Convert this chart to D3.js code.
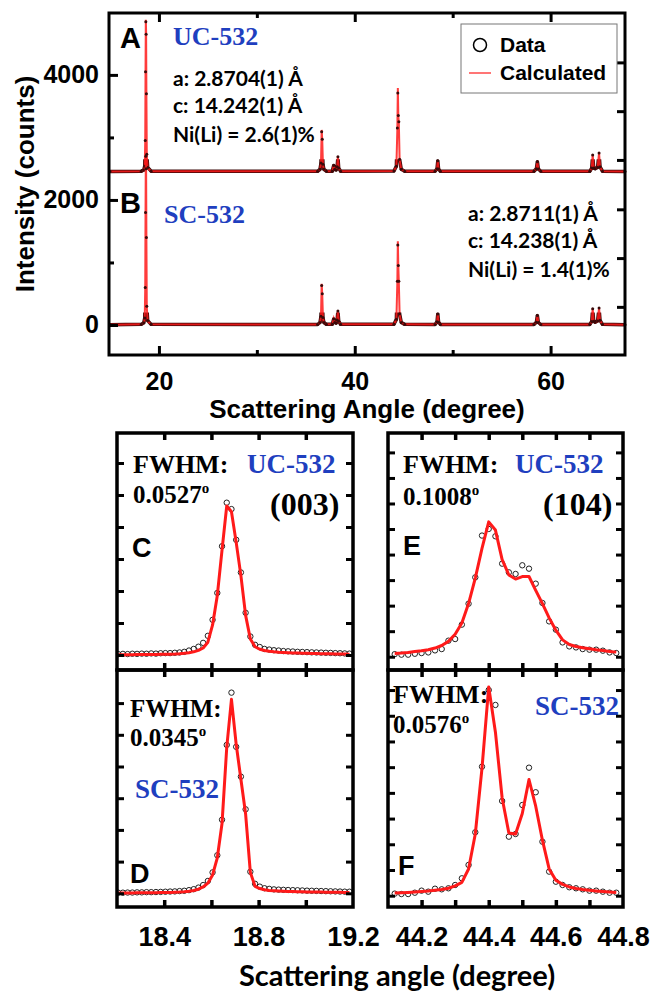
<!DOCTYPE html>
<html>
<head>
<meta charset="utf-8">
<script src="https://cdn.jsdelivr.net/npm/d3@7"></script>
<style>
  body { margin: 0; background: #fff; }
  svg { display: block; }
</style>
</head>
<body>
<svg id="chart" width="655" height="994"></svg>
<script>
// ---- full pattern (top panel), counts; A is stacked with an offset ----
const offsetA = 2450;
const topAngle = [15.0, 18.2, 18.45, 18.55, 18.6, 18.63, 18.66, 18.69, 18.72, 18.76, 18.85, 19.2,
    36.2, 36.45, 36.55, 36.62, 36.68, 36.75, 36.85, 37.1,
    37.7, 37.85, 37.95, 38.1, 38.2, 38.28, 38.36, 38.55,
    44.0, 44.25, 44.35, 44.4, 44.45, 44.5, 44.58, 44.75, 45.1,
    48.2, 48.4, 48.48, 48.56, 48.75,
    58.3, 58.55, 58.65, 58.75, 59.0,
    64.0, 64.2, 64.3, 64.4, 64.55, 64.8, 64.95, 65.05, 65.3,
    67.6];
const obsA = [5, 10, 30, 90, 500, 1600, 2400, 2200, 1250, 280, 70, 10,
    8, 40, 140, 640, 520, 120, 40, 10,
    10, 100, 40, 30, 80, 240, 60, 10,
    12, 90, 700, 1260, 900, 800, 200, 40, 10,
    8, 50, 175, 45, 8,
    8, 50, 160, 45, 8,
    8, 60, 270, 60, 50, 70, 300, 80, 10,
    5];
const calcA = [5, 10, 25, 80, 480, 1550, 2430, 2250, 1230, 260, 60, 10,
    8, 35, 130, 670, 510, 110, 35, 10,
    10, 105, 40, 30, 75, 245, 55, 10,
    12, 85, 680, 1340, 880, 790, 190, 35, 10,
    8, 45, 178, 40, 8,
    8, 45, 162, 40, 8,
    8, 55, 275, 55, 45, 65, 305, 75, 10,
    5];
const obsB = [5, 10, 35, 110, 600, 1800, 2700, 2500, 1400, 300, 70, 10,
    8, 40, 140, 630, 500, 120, 40, 10,
    10, 95, 40, 30, 80, 225, 60, 10,
    12, 90, 700, 1280, 950, 700, 180, 40, 10,
    8, 50, 176, 45, 8,
    8, 45, 150, 40, 8,
    8, 55, 260, 60, 45, 65, 270, 75, 10,
    5];
const calcB = [5, 10, 30, 100, 580, 1750, 2720, 2520, 1380, 280, 60, 10,
    8, 35, 130, 660, 490, 110, 35, 10,
    10, 100, 40, 30, 75, 230, 55, 10,
    12, 85, 690, 1340, 930, 690, 170, 35, 10,
    8, 45, 178, 40, 8,
    8, 40, 152, 36, 8,
    8, 50, 265, 55, 40, 60, 275, 70, 10,
    5];

// ---- (003) reflection, panels C (UC-532) and D (SC-532) ----
const angle003 = [18.205, 18.225, 18.245, 18.265, 18.285, 18.305, 18.325, 18.345, 18.365, 18.385,
    18.405, 18.425, 18.445, 18.465, 18.485, 18.505, 18.525, 18.545, 18.565, 18.585,
    18.605, 18.625, 18.645, 18.665, 18.685, 18.705, 18.725, 18.745, 18.765, 18.785,
    18.805, 18.825, 18.845, 18.865, 18.885, 18.905, 18.925, 18.945, 18.965, 18.985,
    19.005, 19.025, 19.045, 19.065, 19.085, 19.105, 19.125, 19.145, 19.165, 19.185];
const obsC = [15, 18, 15, 20, 18, 22, 20, 25, 22, 28,
    30, 30, 35, 40, 50, 70, 95, 130, 190, 300,
    550, 970, 1700, 2380, 2280, 1800, 1290, 660, 290, 160,
    125, 95, 85, 75, 70, 62, 58, 55, 50, 48,
    45, 42, 40, 38, 35, 33, 30, 28, 25, 22];
const calcC = [5, 5, 6, 6, 7, 8, 8, 9, 10, 11,
    12, 14, 16, 20, 26, 36, 50, 72, 110, 200,
    470, 930, 1640, 2330, 2240, 1760, 1240, 620, 250, 130,
    90, 70, 58, 50, 44, 40, 36, 33, 30, 28,
    26, 24, 22, 20, 19, 18, 17, 16, 15, 14];
const obsD = [10, 10, 12, 12, 15, 15, 18, 18, 20, 22,
    25, 28, 30, 35, 40, 50, 65, 90, 130, 195,
    330, 600, 1160, 2340, 3165, 2310, 1840, 1325, 340, 150,
    105, 80, 70, 62, 58, 55, 52, 50, 48, 45,
    42, 40, 38, 36, 34, 32, 30, 28, 26, 25];
const calcD = [5, 5, 6, 6, 7, 8, 8, 9, 10, 11,
    12, 14, 16, 19, 24, 32, 45, 65, 100, 160,
    290, 560, 1100, 2300, 3060, 2350, 1800, 1250, 330, 110,
    75, 55, 45, 40, 36, 33, 30, 28, 26, 24,
    22, 21, 20, 19, 18, 17, 16, 15, 14, 13];

// ---- (104) reflection, panels E (UC-532) and F (SC-532) ----
const angle104 = [44.12, 44.14, 44.16, 44.18, 44.20, 44.22, 44.24, 44.26, 44.28, 44.30,
    44.32, 44.34, 44.36, 44.38, 44.40, 44.42, 44.44, 44.46, 44.48, 44.50,
    44.52, 44.54, 44.56, 44.58, 44.60, 44.62, 44.64, 44.66, 44.68, 44.70,
    44.72, 44.74, 44.76, 44.78];
const obsE = [25, 20, 20, 29, 36, 42, 62, 75, 157, 173,
    314, 519, 777, 1186, 1251, 1179, 911, 826, 810, 895,
    862, 715, 526, 346, 265, 140, 101, 91, 75, 69,
    69, 59, 42, 36];
const calcE = [32, 36, 42, 50, 58, 68, 85, 110, 150, 220,
    330, 520, 770, 1060, 1320, 1240, 950, 800, 760, 785,
    785, 650, 520, 380, 260, 165, 120, 100, 88, 78,
    68, 60, 52, 45];
const obsF = [20, 16, 16, 29, 49, 39, 68, 62, 72, 104,
    169, 299, 617, 1255, 2000, 1855, 921, 574, 600, 882,
    1245, 1006, 525, 234, 136, 104, 82, 72, 62, 49,
    49, 39, 29, 29];
const calcF = [25, 28, 32, 36, 40, 45, 52, 60, 72, 95,
    130, 260, 600, 1240, 2030, 1590, 950, 610, 600, 800,
    1130, 870, 540, 260, 150, 110, 85, 70, 60, 52,
    46, 40, 35, 30];

// tick values
const topMajorX = [20, 40, 60];
const topMinorX = [30, 50];
const topMajorY = [0, 2000, 4000];
const topMinorY = [1000, 3000];
const topRightY = [290, 1070, 1850, 2640, 3420, 4200];
const ticks003 = [18.4, 18.6, 18.8, 19.0];
const labels003 = [18.4, 18.8, 19.2];
const ticks104 = [44.2, 44.3, 44.4, 44.5, 44.6, 44.7];
const labels104 = [44.2, 44.4, 44.6, 44.8];

const SANS = 'Liberation Sans, Arial, sans-serif';
const SERIF = 'Liberation Serif, Times New Roman, serif';
const CALI = 'Lato, Carlito, sans-serif';
const blue = '#1f3fbf';
const red = '#ff1a1a';
const dark = '#3a0a0a';

const svg = d3.select('#chart');
const defs = svg.append('defs');

function addText(x, y, str, size, family, color, anchor) {
    return svg.append('text')
        .attr('x', x)
        .attr('y', y)
        .attr('font-size', size)
        .attr('font-family', family)
        .attr('font-weight', 'bold')
        .attr('fill', color || '#000')
        .attr('text-anchor', anchor || 'start')
        .text(str);
}

function styleAxis(g, width) {
    g.select('.domain').remove();
    g.selectAll('.tick line').attr('stroke', '#000').attr('stroke-width', width);
}

// ================= top panel =================
const xTop = d3.scaleLinear().domain([14.9, 67.6]).range([109, 625]);
const yTop = d3.scaleLinear().domain([-480, 4990]).range([355, 13]);

const topLine = d3.line().x(d => xTop(d[0])).y(d => yTop(d[1]));

function drawPattern(obs, calc, offset, id) {
    const obsPts = topAngle.map((a, i) => [a, obs[i] + offset]);
    const calcPts = topAngle.map((a, i) => [a, calc[i] + offset]);

    // dense observed points merge into a dark band near the baseline
    defs.append('clipPath').attr('id', id)
        .append('rect')
        .attr('x', xTop.range()[0])
        .attr('width', xTop.range()[1] - xTop.range()[0])
        .attr('y', yTop(offset + 200))
        .attr('height', yTop(offset - 200) - yTop(offset + 200));

    svg.append('path')
        .attr('d', topLine(obsPts))
        .attr('clip-path', 'url(#' + id + ')')
        .attr('fill', 'none')
        .attr('stroke', dark)
        .attr('stroke-width', 3.5)
        .attr('stroke-linejoin', 'round');

    svg.append('path')
        .attr('d', topLine(calcPts))
        .attr('fill', 'none')
        .attr('stroke', red)
        .attr('stroke-opacity', 0.85)
        .attr('stroke-width', 2);

    svg.append('g')
        .selectAll('circle')
        .data(obsPts)
        .enter()
        .append('circle')
        .attr('cx', d => xTop(d[0]))
        .attr('cy', d => yTop(d[1]))
        .attr('r', 1.5)
        .attr('fill', dark);
}

drawPattern(obsA, calcA, offsetA, 'clipA');
drawPattern(obsB, calcB, 0, 'clipB');

// frame + inward ticks
svg.append('rect')
    .attr('x', 109).attr('y', 13)
    .attr('width', 516).attr('height', 342)
    .attr('fill', 'none').attr('stroke', '#000').attr('stroke-width', 3);

let g = svg.append('g').attr('transform', 'translate(0,355)')
    .call(d3.axisBottom(xTop).tickValues(topMajorX).tickSize(-9).tickPadding(17).tickFormat(d3.format('d')));
styleAxis(g, 3);
g.attr('font-size', 25).attr('font-family', SANS).attr('font-weight', 'bold');
g = svg.append('g').attr('transform', 'translate(0,355)')
    .call(d3.axisBottom(xTop).tickValues(topMinorX).tickSize(-5).tickFormat(''));
styleAxis(g, 3);
g = svg.append('g').attr('transform', 'translate(0,13)')
    .call(d3.axisTop(xTop).tickValues(topMajorX).tickSize(-9).tickFormat(''));
styleAxis(g, 3);
g = svg.append('g').attr('transform', 'translate(0,13)')
    .call(d3.axisTop(xTop).tickValues(topMinorX).tickSize(-5).tickFormat(''));
styleAxis(g, 3);

g = svg.append('g').attr('transform', 'translate(109,0)')
    .call(d3.axisLeft(yTop).tickValues(topMajorY).tickSize(-9).tickPadding(10).tickFormat(d3.format('d')));
styleAxis(g, 3);
g.attr('font-size', 25).attr('font-family', SANS).attr('font-weight', 'bold');
g = svg.append('g').attr('transform', 'translate(109,0)')
    .call(d3.axisLeft(yTop).tickValues(topMinorY).tickSize(-5).tickFormat(''));
styleAxis(g, 3);
g = svg.append('g').attr('transform', 'translate(625,0)')
    .call(d3.axisRight(yTop).tickValues(topRightY).tickSize(-8).tickFormat(''));
styleAxis(g, 3);

// axis titles
addText(367, 418, 'Scattering Angle (degree)', 26, SANS, '#000', 'middle');
svg.append('text')
    .attr('transform', 'translate(34,184) rotate(-90)')
    .attr('text-anchor', 'middle')
    .attr('font-size', 26)
    .attr('font-family', SANS)
    .attr('font-weight', 'bold')
    .text('Intensity (counts)');

// annotations
addText(120, 48, 'A', 29, SANS);
addText(173, 45, 'UC-532', 26, SERIF, blue);
addText(173, 86, 'a: 2.8704(1) Å', 21, CALI);
addText(173, 113, 'c: 14.242(1) Å', 21, CALI);
addText(173, 142, 'Ni(Li) = 2.6(1)%', 21, CALI);
addText(120, 213, 'B', 29, SANS);
addText(164, 223, 'SC-532', 26, SERIF, blue);
addText(468, 221, 'a: 2.8711(1) Å', 21, CALI);
addText(468, 248, 'c: 14.238(1) Å', 21, CALI);
addText(468, 277, 'Ni(Li) = 1.4(1)%', 21, CALI);

// legend
svg.append('rect')
    .attr('x', 461).attr('y', 24).attr('width', 156).attr('height', 69)
    .attr('fill', '#fff').attr('stroke', '#777').attr('stroke-width', 1);
svg.append('circle')
    .attr('cx', 480).attr('cy', 45).attr('r', 6.5)
    .attr('fill', 'none').attr('stroke', '#000').attr('stroke-width', 1.5);
addText(500, 52, 'Data', 21, SANS);
svg.append('line')
    .attr('x1', 469).attr('x2', 491).attr('y1', 73).attr('y2', 73)
    .attr('stroke', red).attr('stroke-opacity', 0.8).attr('stroke-width', 1.5);
addText(500, 80, 'Calculated', 21, SANS);

// ================= zoomed peaks =================
const x003 = d3.scaleLinear().domain([18.2, 19.2]).range([117, 353]);
const x104 = d3.scaleLinear().domain([44.1, 44.8]).range([388, 623]);

const panels = [
    { id: 'C', x: x003, y: d3.scaleLinear().domain([-234, 3469]).range([670, 433]),
      ang: angle003, obs: obsC, calc: calcC, step: 500, ticks: ticks003 },
    { id: 'D', x: x003, y: d3.scaleLinear().domain([-216, 3522]).range([907, 670]),
      ang: angle003, obs: obsD, calc: calcD, step: 500, ticks: ticks003 },
    { id: 'E', x: x104, y: d3.scaleLinear().domain([-130, 2190]).range([670, 433]),
      ang: angle104, obs: obsE, calc: calcE, step: 250, ticks: ticks104 },
    { id: 'F', x: x104, y: d3.scaleLinear().domain([-110, 2195]).range([907, 670]),
      ang: angle104, obs: obsF, calc: calcF, step: 250, ticks: ticks104 }
];

// panel texts (drawn under the data)
addText(133, 473, 'FWHM:', 26, SERIF);
addText(247, 473, 'UC-532', 27, SERIF, blue);
addText(133, 503, '0.0527', 25, SERIF).append('tspan').attr('dy', -10).attr('font-size', 15).text('o');
addText(270, 515, '(003)', 32, SERIF);
addText(132, 557, 'C', 27, SANS);

addText(403, 473, 'FWHM:', 26, SERIF);
addText(515, 473, 'UC-532', 27, SERIF, blue);
addText(403, 505, '0.1008', 25, SERIF).append('tspan').attr('dy', -10).attr('font-size', 15).text('o');
addText(543, 515, '(104)', 32, SERIF);
addText(403, 555, 'E', 27, SANS);

addText(130, 717, 'FWHM:', 25, SERIF);
addText(130, 746, '0.0345', 25, SERIF).append('tspan').attr('dy', -10).attr('font-size', 15).text('o');
addText(135, 798, 'SC-532', 27, SERIF, blue);
addText(130, 883, 'D', 27, SANS);

addText(393, 703, 'FWHM:', 26, SERIF);
addText(393, 733, '0.0576', 25, SERIF).append('tspan').attr('dy', -10).attr('font-size', 15).text('o');
addText(535, 715, 'SC-532', 27, SERIF, blue);
addText(398, 875, 'F', 27, SANS);

panels.forEach(p => {
    const [x0, x1] = p.x.range();
    const [y1, y0] = p.y.range();
    const pts = p.ang.map((a, i) => ({ a: a, o: p.obs[i], c: p.calc[i] }));

    defs.append('clipPath').attr('id', 'clip' + p.id)
        .append('rect')
        .attr('x', x0).attr('y', y0)
        .attr('width', x1 - x0).attr('height', y1 - y0);

    const layer = svg.append('g').attr('clip-path', 'url(#clip' + p.id + ')');

    layer.selectAll('circle')
        .data(pts)
        .enter()
        .append('circle')
        .attr('cx', d => p.x(d.a))
        .attr('cy', d => p.y(d.o))
        .attr('r', 2.7)
        .attr('fill', 'none')
        .attr('stroke', '#222')
        .attr('stroke-width', 1);

    layer.append('path')
        .attr('d', d3.line().x(d => p.x(d.a)).y(d => p.y(d.c))(pts))
        .attr('fill', 'none')
        .attr('stroke', red)
        .attr('stroke-width', 3)
        .attr('stroke-linejoin', 'round');

    // inward ticks on all four sides
    const yTicks = d3.range(0, p.y.domain()[1], p.step).filter(v => p.y(v) > y0 + 4);
    let a = svg.append('g').attr('transform', 'translate(0,' + y1 + ')')
        .call(d3.axisBottom(p.x).tickValues(p.ticks).tickSize(-7).tickFormat(''));
    styleAxis(a, 3.5);
    a = svg.append('g').attr('transform', 'translate(0,' + y0 + ')')
        .call(d3.axisTop(p.x).tickValues(p.ticks).tickSize(-7).tickFormat(''));
    styleAxis(a, 3.5);
    a = svg.append('g').attr('transform', 'translate(' + x0 + ',0)')
        .call(d3.axisLeft(p.y).tickValues(yTicks).tickSize(-7).tickFormat(''));
    styleAxis(a, 3);
    a = svg.append('g').attr('transform', 'translate(' + x1 + ',0)')
        .call(d3.axisRight(p.y).tickValues(yTicks).tickSize(-7).tickFormat(''));
    styleAxis(a, 3);

    svg.append('rect')
        .attr('x', x0).attr('y', y0)
        .attr('width', x1 - x0).attr('height', y1 - y0)
        .attr('fill', 'none').attr('stroke', '#000').attr('stroke-width', 3.5);
});

// tick labels under D and F
[[x003, labels003], [x104, labels104]].forEach(([sc, vals]) => {
    const a = svg.append('g').attr('transform', 'translate(0,907)')
        .call(d3.axisBottom(sc).tickValues(vals).tickSize(0).tickPadding(20).tickFormat(d3.format('.1f')));
    a.select('.domain').remove();
    a.attr('font-size', 27).attr('font-family', SANS).attr('font-weight', 'bold');
});

addText(397, 986, 'Scattering angle (degree)', 29, CALI, '#000', 'middle');
</script>
</body>
</html>
